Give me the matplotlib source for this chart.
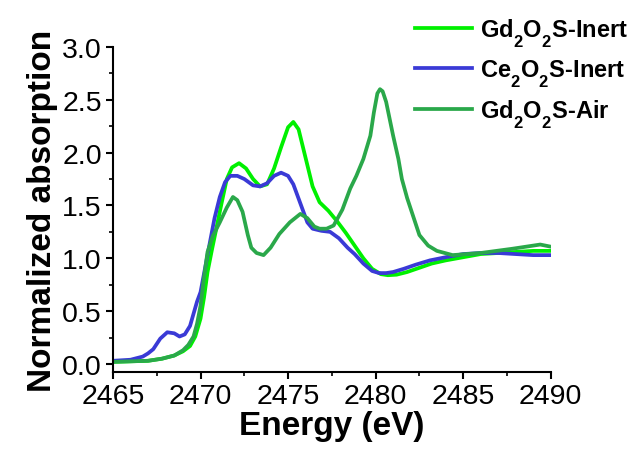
import numpy as np
import matplotlib
matplotlib.use('Agg')
import matplotlib.pyplot as plt
from matplotlib.ticker import MultipleLocator
import matplotlib._mathtext as mt

plt.rcParams['font.family'] = ['Liberation Sans', 'DejaVu Sans']
plt.rcParams['mathtext.fontset'] = 'custom'
plt.rcParams['mathtext.bf'] = 'Liberation Sans:bold'
plt.rcParams['mathtext.rm'] = 'Liberation Sans:bold'
# push subscripts lower, like the original figure
try:
    mt.FontConstantsBase.sub1 = 0.75
except Exception:
    pass

# Gd2O2S-Inert
e_gd_inert = [2465.0, 2466.0, 2467.0, 2467.8, 2468.5, 2469.0, 2469.4, 2469.7, 2470.0, 2470.2,
              2470.4, 2470.65, 2470.9, 2471.2, 2471.5, 2471.8, 2472.2, 2472.6, 2473.0, 2473.4,
              2473.8, 2474.2, 2474.6, 2475.0, 2475.3, 2475.6, 2476.0, 2476.4, 2476.8, 2477.3,
              2477.8, 2478.3, 2478.8, 2479.3, 2479.8, 2480.3, 2480.7, 2481.2, 2481.8, 2482.5,
              2483.2, 2484.0, 2485.0, 2486.0, 2487.0, 2488.0, 2489.0, 2490.0]
a_gd_inert = [0.02, 0.025, 0.03, 0.05, 0.08, 0.12, 0.17, 0.26, 0.43, 0.63,
              0.87, 1.08, 1.28, 1.52, 1.75, 1.86, 1.90, 1.85, 1.75, 1.68,
              1.70, 1.85, 2.05, 2.24, 2.29, 2.22, 1.95, 1.68, 1.53, 1.45,
              1.35, 1.24, 1.12, 1.00, 0.90, 0.85, 0.84, 0.845, 0.87, 0.91,
              0.95, 0.98, 1.01, 1.04, 1.05, 1.06, 1.07, 1.07]

# Ce2O2S-Inert
e_ce_inert = [2465.0, 2466.0, 2466.7, 2467.0, 2467.3, 2467.7, 2468.1, 2468.5, 2468.8, 2469.1,
              2469.4, 2469.8, 2470.0, 2470.25, 2470.5, 2470.8, 2471.1, 2471.4, 2471.7, 2472.1,
              2472.5, 2473.0, 2473.4, 2473.8, 2474.2, 2474.6, 2475.0, 2475.3, 2475.7, 2476.1,
              2476.4, 2476.9, 2477.4, 2477.9, 2478.4, 2478.8, 2479.3, 2479.8, 2480.2, 2480.6,
              2481.0, 2481.6, 2482.3, 2483.1, 2484.0, 2485.0, 2486.0, 2487.0, 2488.0, 2489.0,
              2490.0]
a_ce_inert = [0.03, 0.04, 0.07, 0.10, 0.14, 0.24, 0.30, 0.29, 0.26, 0.28,
              0.36, 0.59, 0.68, 0.90, 1.12, 1.38, 1.58, 1.72, 1.78, 1.78,
              1.75, 1.69, 1.68, 1.71, 1.78, 1.81, 1.78, 1.70, 1.52, 1.34,
              1.28, 1.26, 1.25, 1.19, 1.10, 1.04, 0.95, 0.88, 0.86, 0.86,
              0.87, 0.90, 0.94, 0.98, 1.01, 1.04, 1.05, 1.05, 1.04, 1.03,
              1.03]

# Gd2O2S-Air
e_gd_air = [2465.0, 2466.0, 2467.0, 2467.8, 2468.5, 2469.0, 2469.3, 2469.6, 2469.8, 2470.0,
            2470.2, 2470.4, 2470.7, 2471.1, 2471.5, 2471.85, 2472.1, 2472.4, 2472.7, 2472.9,
            2473.2, 2473.6, 2474.0, 2474.5, 2475.1, 2475.7, 2476.1, 2476.5, 2476.8, 2477.2,
            2477.6, 2477.8, 2478.1, 2478.55, 2478.9, 2479.3, 2479.7, 2479.9, 2480.1, 2480.25,
            2480.4, 2480.6, 2480.8, 2481.0, 2481.3, 2481.5, 2481.8, 2482.0, 2482.5, 2483.0,
            2483.5, 2484.4, 2485.2, 2486.0, 2486.9, 2487.8, 2488.6, 2489.4, 2490.0]
a_gd_air = [0.02, 0.025, 0.03, 0.05, 0.08, 0.13, 0.18, 0.26, 0.38, 0.55,
            0.82, 1.06, 1.21, 1.34, 1.48, 1.58, 1.55, 1.44, 1.22, 1.10,
            1.05, 1.03, 1.10, 1.23, 1.34, 1.42, 1.38, 1.30, 1.28, 1.28,
            1.31, 1.37, 1.46, 1.66, 1.78, 1.94, 2.16, 2.38, 2.56, 2.60,
            2.58, 2.48, 2.32, 2.16, 1.94, 1.75, 1.57, 1.47, 1.22, 1.12,
            1.07, 1.03, 1.04, 1.05, 1.07, 1.09, 1.11, 1.13, 1.11]

labels = [r'Gd$_\mathbf{2}$O$_\mathbf{2}$S-Inert',
          r'Ce$_\mathbf{2}$O$_\mathbf{2}$S-Inert',
          r'Gd$_\mathbf{2}$O$_\mathbf{2}$S-Air']
colors = ['#00f000', '#3a3ad6', '#2aa84a']

fig = plt.figure(figsize=(6.33, 4.52), dpi=100)
ax = fig.add_axes([0.1785, 0.175, 0.6915, 0.719])

ax.plot(e_gd_inert, a_gd_inert, color=colors[0], lw=2.7, label=labels[0])
ax.plot(e_ce_inert, a_ce_inert, color=colors[1], lw=2.7, label=labels[1])
ax.plot(e_gd_air, a_gd_air, color=colors[2], lw=2.7, label=labels[2])

ax.set_xlim(2465, 2490)
ax.set_ylim(-0.075, 3.0)
ax.xaxis.set_major_locator(MultipleLocator(5))
ax.xaxis.set_minor_locator(MultipleLocator(2.5))
ax.yaxis.set_minor_locator(MultipleLocator(0.25))
ax.set_yticks(np.arange(0, 3.01, 0.5))
ax.set_yticklabels(['%.1f' % v for v in np.arange(0, 3.01, 0.5)])

for s in ['top', 'right']:
    ax.spines[s].set_visible(False)
for s in ['left', 'bottom']:
    ax.spines[s].set_linewidth(1.5)

ax.tick_params(which='major', direction='out', length=5, width=1.5, labelsize=20.5, pad=3)
ax.tick_params(which='minor', direction='out', length=3, width=1.2)

ax.set_xlabel('Energy (eV)', fontsize=24, fontweight='bold', labelpad=1)
ax.set_ylabel('Normalized absorption', fontsize=24, fontweight='bold', labelpad=3)

fig.legend(loc='upper left', bbox_to_anchor=(415 / 633, 0.962), frameon=False,
           prop={'size': 17, 'weight': 'bold'}, handlelength=2.4,
           handletextpad=0.35, labelspacing=0.36, borderpad=0, borderaxespad=0)

fig.savefig('out.png', dpi=100)
